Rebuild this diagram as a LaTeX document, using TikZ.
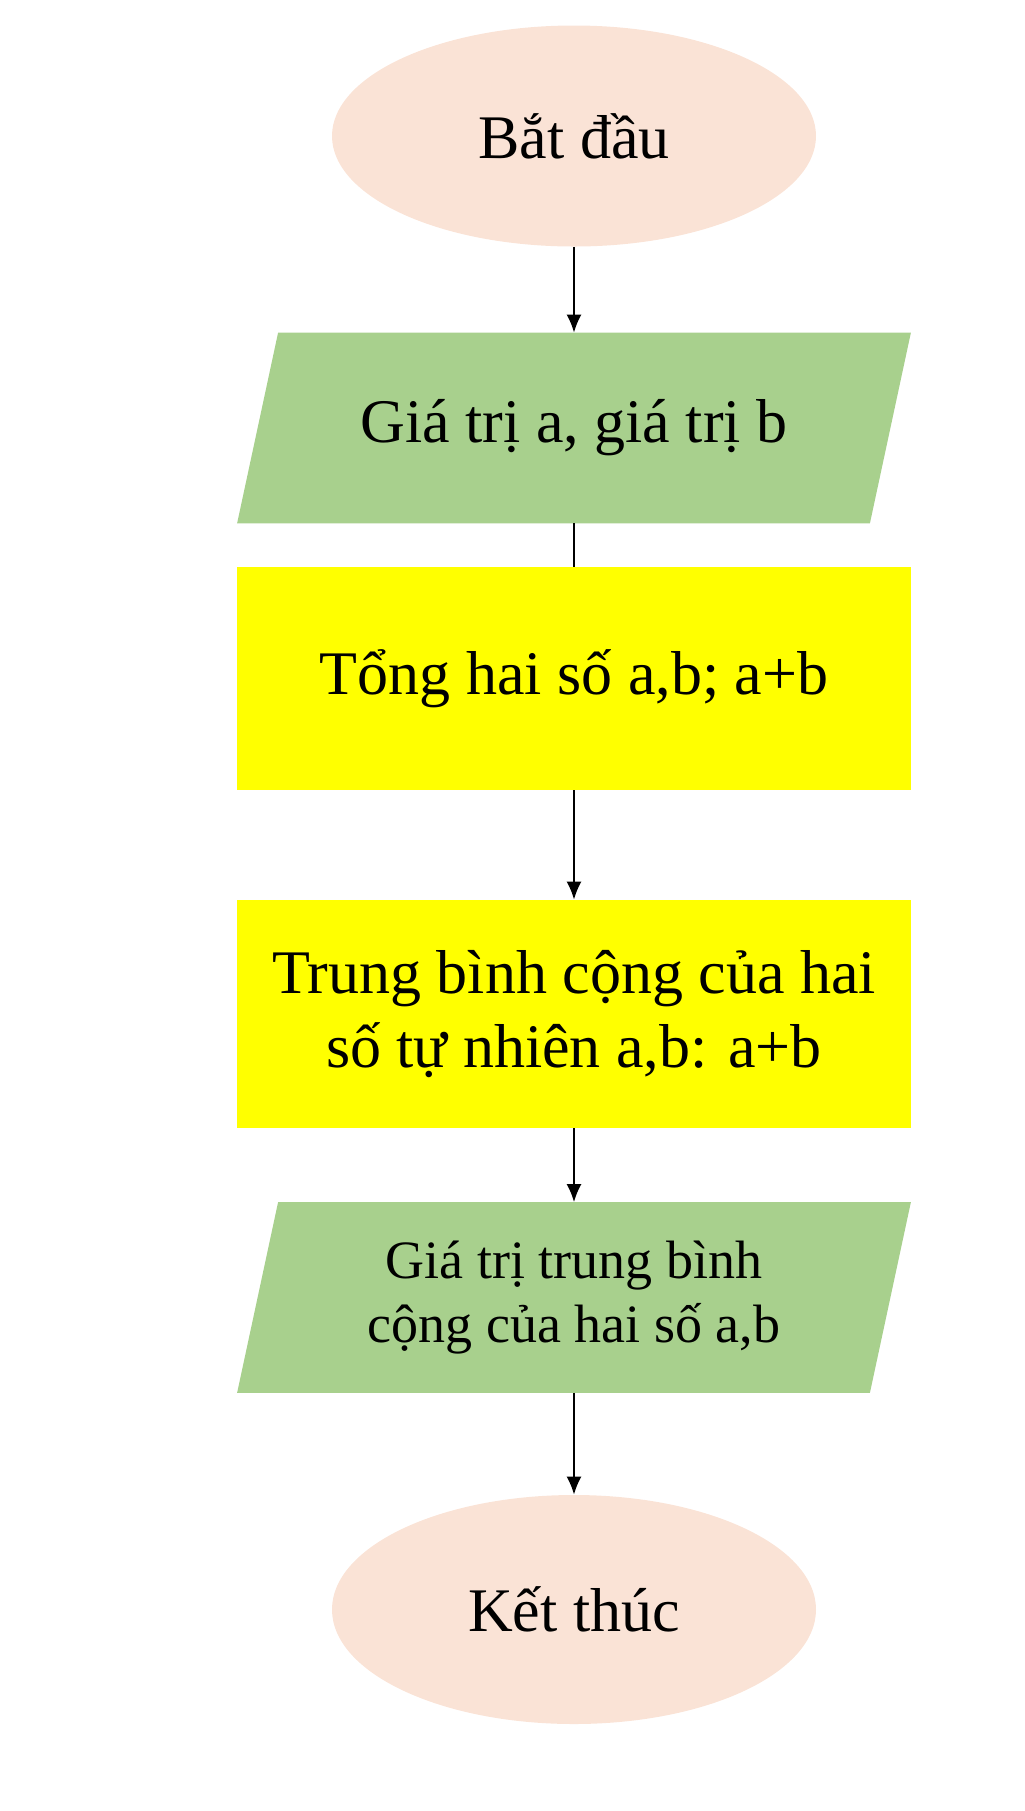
\documentclass[tikz,border=0pt]{standalone}
\usepackage{fontspec}
\setmainfont{Liberation Serif}
\usepackage{tikz}
\usetikzlibrary{arrows.meta,shapes.geometric,backgrounds,positioning}
\definecolor{peach}{HTML}{FAE3D6}
\definecolor{leaf}{HTML}{A8D08D}
\definecolor{lemon}{HTML}{FFFF00}

\begin{document}
\begin{tikzpicture}[x=0.5pt,y=-0.5pt,
    terminal/.style={ellipse,fill=peach,minimum width=242pt,inner sep=0pt,font=\fontsize{31}{36}\selectfont},
    io/.style={rectangle,minimum width=316pt,minimum height=95pt,inner sep=0pt,align=center},
    process/.style={rectangle,fill=lemon,minimum width=337pt,inner sep=0pt,align=center,font=\fontsize{31}{37}\selectfont},
    flow/.style={-{Latex[length=9pt,width=7.5pt]},line width=0.9pt}]
	  % Page and margins
	  \useasboundingbox (0,0) rectangle (1024,1811);
	  % Draw the blocks top to bottom
	  \node (start) [terminal,minimum height=110.5pt] at (574,136) {Bắt đầu};
	  \node (input) [io,font=\fontsize{31}{36}\selectfont] at (574,428) {Giá trị a, giá trị b};
	  \node (sum) [process,minimum height=111.5pt] at (574,678.5) {Tổng hai số a,b; a+b};
	  \node (mean) [process,minimum height=114pt] at (574,1014) {Trung bình cộng của hai\\số tự nhiên a,b: a+b};
	  \node (output) [io,font=\fontsize{27}{32}\selectfont] at (574,1297.5) {Giá trị trung bình\\cộng của hai số a,b};
	  \node (stop) [terminal,minimum height=114.5pt] at (574,1609.5) {Kết thúc};
	  % Slanted fill behind the two data blocks
	  \begin{scope}[on background layer]
	    \foreach \n in {input,output}
	      \fill[leaf] ([xshift=10.25pt]\n.north west) -- ([xshift=10.25pt]\n.north east)
	        -- ([xshift=-10.25pt]\n.south east) -- ([xshift=-10.25pt]\n.south west) -- cycle;
	  \end{scope}
	  % Draw the connectors
	  \draw[flow] (start) -- (input);
	  \draw[line width=0.9pt] (input) -- (sum);
	  \draw[flow] (sum) -- (mean);
	  \draw[flow] (mean) -- (output);
	  \draw[flow] (output) -- (stop);
\end{tikzpicture}
\end{document}
